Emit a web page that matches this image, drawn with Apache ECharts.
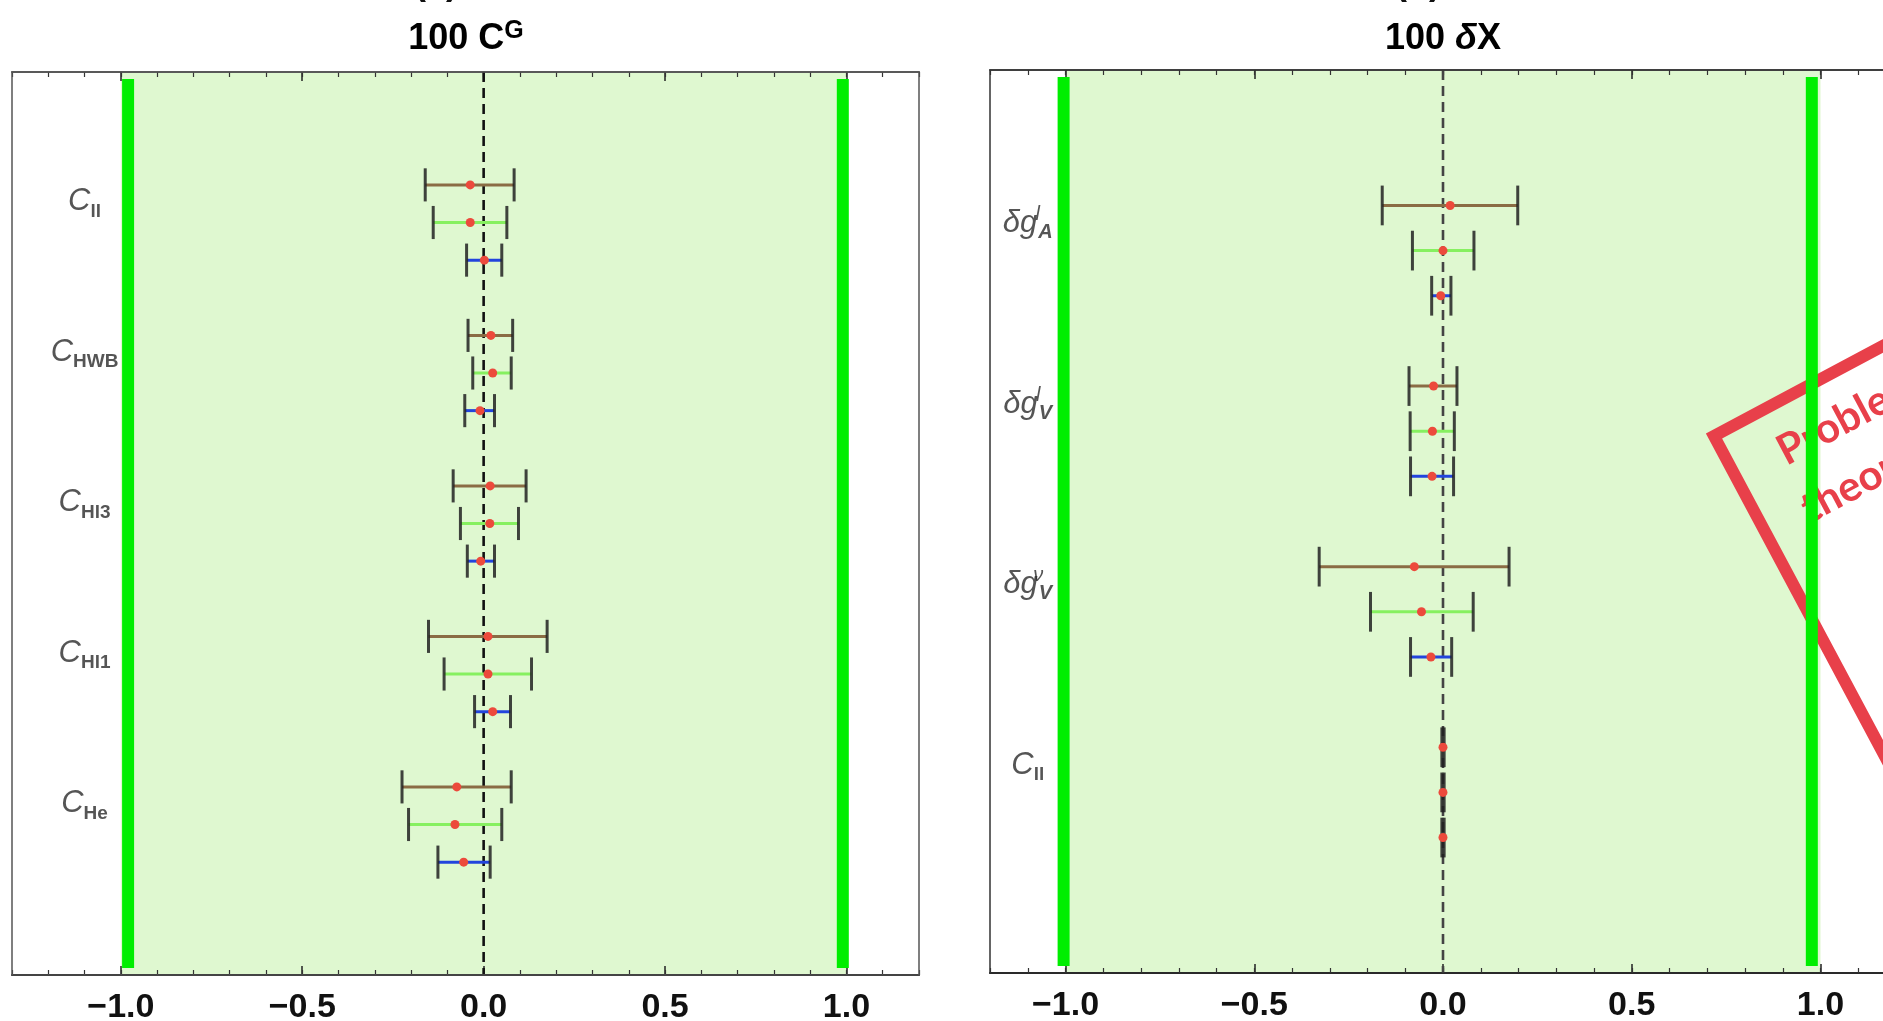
<!DOCTYPE html>
<html>
<head>
<meta charset="utf-8">
<title>100 C^G / 100 δX</title>
<script src="https://cdn.jsdelivr.net/npm/echarts@6/dist/echarts.min.js"></script>
<style>
html,body{margin:0;padding:0;background:#fff;}
#main{width:1883px;height:1021px;}
</style>
</head>
<body>
<div id="main"></div>
<script>
// ---- panel (a): 100 C^G ----
var catsA = ['C_ll', 'C_HWB', 'C_Hl3', 'C_Hl1', 'C_He'];
// three fits per operator: brown, light green, blue
var brownLoA = [-0.161, -0.043, -0.084, -0.152, -0.225];
var brownHiA = [0.084, 0.080, 0.117, 0.175, 0.076];
var brownMidA = [-0.037, 0.020, 0.018, 0.012, -0.074];
var greenLoA = [-0.139, -0.030, -0.064, -0.109, -0.207];
var greenHiA = [0.064, 0.076, 0.096, 0.132, 0.050];
var greenMidA = [-0.037, 0.025, 0.017, 0.012, -0.079];
var blueLoA = [-0.047, -0.052, -0.045, -0.025, -0.126];
var blueHiA = [0.050, 0.030, 0.030, 0.074, 0.018];
var blueMidA = [0.002, -0.010, -0.008, 0.025, -0.055];
var limitsA = [-0.98, 0.99];

// ---- panel (b): 100 δX ----
var catsB = ['δg_A^l', 'δg_V^l', 'δg_V^ν', 'C_ll'];
var brownLoB = [-0.161, -0.090, -0.328, -0.003];
var brownHiB = [0.198, 0.037, 0.175, 0.003];
var brownMidB = [0.019, -0.025, -0.076, 0.000];
var greenLoB = [-0.081, -0.087, -0.192, -0.003];
var greenHiB = [0.082, 0.030, 0.080, 0.003];
var greenMidB = [0.000, -0.028, -0.057, 0.000];
var blueLoB = [-0.030, -0.086, -0.086, -0.003];
var blueHiB = [0.021, 0.028, 0.023, 0.003];
var blueMidB = [-0.006, -0.029, -0.032, 0.000];
var limitsB = [-1.005, 0.977];

// axis ticks
var tickVals = [-1.0, -0.5, 0.0, 0.5, 1.0];
var bandRange = [-1, 1];

var myChart = echarts.init(document.getElementById('main'));

function minorTicks(min, max) {
    var arr = [];
    for (var i = Math.round(min * 10); i <= Math.round(max * 10); i++) {
        arr.push(i / 10);
    }
    return arr;
}

function fmtTick(v) {
    if (Math.abs(v) < 1e-9) return '0.0';
    return (v < 0 ? '\u2212' : '') + Math.abs(v).toFixed(1);
}

// "C_ll" / "δg_A^l" -> rich text
function richName(name) {
    var sup = '';
    var k = name.indexOf('^');
    if (k >= 0) { sup = name.slice(k + 1); name = name.slice(0, k); }
    var parts = name.split('_');
    var s = '{c|' + parts[0] + '}';
    if (sup) s += '{p|' + sup + '}';
    if (parts[1]) s += (sup ? '{si|' : '{s|') + parts[1] + '}';
    return s;
}

var labelRich = {
    c: { fontFamily: 'Liberation Sans', fontStyle: 'italic', fontSize: 31, color: '#2a2a2a', lineHeight: 38, verticalAlign: 'middle' },
    s: { fontFamily: 'Liberation Sans', fontWeight: 'bold', fontSize: 19, color: '#2a2a2a', lineHeight: 14, verticalAlign: 'bottom' },
    si: { fontFamily: 'Liberation Sans', fontStyle: 'italic', fontWeight: 'bold', fontSize: 20, color: '#2a2a2a', lineHeight: 16, verticalAlign: 'bottom' },
    p: { fontFamily: 'Liberation Sans', fontStyle: 'italic', fontSize: 20, color: '#2a2a2a', lineHeight: 18, verticalAlign: 'top', width: 1 }
};

// band from -1 to 1 over the whole plot height
function bandItem(params, api) {
    var cs = params.coordSys;
    var x1 = api.coord([api.value(0), 0])[0];
    var x2 = api.coord([api.value(1), 0])[0];
    return { type: 'rect', shape: { x: x1, y: cs.y, width: x2 - x1, height: cs.height }, style: { fill: '#dff8d0' } };
}

// thick green limit bars
function limitItem(params, api) {
    var cs = params.coordSys;
    var x = api.coord([api.value(0), 0])[0];
    return { type: 'line', shape: { x1: x, y1: cs.y + 7, x2: x, y2: cs.y + cs.height - 7 }, style: { stroke: '#00ee00', lineWidth: 12 } };
}

// dashed zero line
function zeroLine(color) {
    return function (params, api) {
        var cs = params.coordSys;
        var x = api.coord([api.value(0), 0])[0];
        return { type: 'line', shape: { x1: x, y1: cs.y, x2: x, y2: cs.y + cs.height }, style: { stroke: color, lineWidth: 2.6, lineDash: [10, 6] } };
    };
}

function errBar(color) {
    return function (params, api) {
        var y = api.value(2);
        var p1 = api.coord([api.value(0), y]);
        var p2 = api.coord([api.value(1), y]);
        var h = api.size([0, 1])[1] * 0.44;
        return {
            type: 'group', children: [
                { type: 'line', shape: { x1: p1[0], y1: p1[1], x2: p2[0], y2: p2[1] }, style: { stroke: color, lineWidth: 3 } },
                { type: 'line', shape: { x1: p1[0], y1: p1[1] - h, x2: p1[0], y2: p1[1] + h }, style: { stroke: '#222', lineWidth: 3, opacity: 0.85 } },
                { type: 'line', shape: { x1: p2[0], y1: p2[1] - h, x2: p2[0], y2: p2[1] + h }, style: { stroke: '#222', lineWidth: 3, opacity: 0.85 } }
            ]
        };
    };
}

function rows(lo, hi, off) {
    return lo.map(function (v, i) { return [v, hi[i], i * 4 + off]; });
}
function dots(mid, off) {
    return mid.map(function (v, i) { return [v, i * 4 + off]; });
}

function xAxesFor(grid, min, max) {
    var minor = minorTicks(min, max);
    var base = { type: 'value', gridIndex: grid, min: min, max: max, splitLine: { show: false } };
    return [
        Object.assign({}, base, {
            position: 'bottom',
            axisLine: { onZero: false, lineStyle: { color: '#111', width: 2 } },
            axisTick: { inside: true, length: 9, customValues: tickVals, lineStyle: { color: '#222', width: 1.5 } },
            axisLabel: { customValues: tickVals, formatter: fmtTick, margin: 16, fontFamily: 'Liberation Sans', fontWeight: 'bold', fontSize: 34, color: '#111' }
        }),
        Object.assign({}, base, {
            position: 'bottom',
            axisLine: { show: false, onZero: false },
            axisTick: { inside: true, length: 5, customValues: minor, lineStyle: { color: '#333', width: 1.2 } },
            axisLabel: { show: false }
        }),
        Object.assign({}, base, {
            position: 'top',
            axisLine: { onZero: false, lineStyle: { color: '#666', width: 2 } },
            axisTick: { inside: true, length: 9, customValues: tickVals, lineStyle: { color: '#222', width: 1.5 } },
            axisLabel: { show: false }
        }),
        Object.assign({}, base, {
            position: 'top',
            axisLine: { show: false, onZero: false },
            axisTick: { inside: true, length: 5, customValues: minor, lineStyle: { color: '#333', width: 1.2 } },
            axisLabel: { show: false }
        })
    ];
}

function panelSeries(g, cats, lim, zeroColor, labelOff, d) {
    var xi = g * 4;
    var common = { xAxisIndex: xi, yAxisIndex: g, silent: true, animation: false };
    return [
        Object.assign({ type: 'custom', z: -1, renderItem: bandItem, data: [bandRange] }, common),
        Object.assign({ type: 'custom', z: 2, renderItem: limitItem, data: lim.map(function (v) { return [v]; }) }, common),
        Object.assign({ type: 'custom', z: 3, renderItem: zeroLine(zeroColor), data: [[0]] }, common),
        Object.assign({ type: 'custom', z: 4, renderItem: errBar('#8a6c44'), data: rows(d[0], d[1], 0) }, common),
        Object.assign({ type: 'custom', z: 4, renderItem: errBar('#86f060'), data: rows(d[3], d[4], 1) }, common),
        Object.assign({ type: 'custom', z: 4, renderItem: errBar('#2244dd'), data: rows(d[6], d[7], 2) }, common),
        Object.assign({
            type: 'scatter', z: 5, symbolSize: 9, itemStyle: { color: '#ec4a3c', opacity: 1 },
            data: dots(d[2], 0).concat(dots(d[5], 1)).concat(dots(d[8], 2))
        }, common),
        Object.assign({
            type: 'scatter', z: 5, symbolSize: 0,
            data: cats.map(function (c, i) { return { value: [-1.1, i * 4 + labelOff], name: c }; }),
            label: {
                show: true, position: 'inside', align: 'center', verticalAlign: 'middle',
                formatter: function (p) { return richName(p.name); }, rich: labelRich
            }
        }, common)
    ];
}

var option = {
    backgroundColor: '#fff',
    animation: false,
    grid: [
        { left: 12, top: 72, width: 907, height: 903, show: true, borderColor: '#555', borderWidth: 1.5, z: 4, outerBoundsMode: 'none', containLabel: false },
        { left: 990, top: 70, width: 906, height: 903, show: true, borderColor: '#333', borderWidth: 1.5, z: 4, outerBoundsMode: 'none', containLabel: false }
    ],
    xAxis: xAxesFor(0, -1.3, 1.2).concat(xAxesFor(1, -1.2, 1.2)),
    yAxis: [
        { type: 'value', gridIndex: 0, min: -3, max: 21, inverse: true, show: false },
        { type: 'value', gridIndex: 1, min: -3, max: 17, inverse: true, show: false }
    ],
    series: panelSeries(0, catsA, limitsA, '#111', 0.45,
        [brownLoA, brownHiA, brownMidA, greenLoA, greenHiA, greenMidA, blueLoA, blueHiA, blueMidA])
        .concat(panelSeries(1, catsB, limitsB, '#444', 0.4,
        [brownLoB, brownHiB, brownMidB, greenLoB, greenHiB, greenMidB, blueLoB, blueHiB, blueMidB])),
    graphic: [
        { type: 'text', x: 436, y: 2, style: { text: '(a)', align: 'center', verticalAlign: 'bottom', font: 'bold 36px "Liberation Sans"', fill: '#111' } },
        { type: 'text', x: 1418, y: 2, style: { text: '(b)', align: 'center', verticalAlign: 'bottom', font: 'bold 36px "Liberation Sans"', fill: '#111' } },
        {
            type: 'text', x: 466, y: 39,
            style: {
                text: '{t|100 C}{u|G}', align: 'center', verticalAlign: 'middle',
                rich: {
                    t: { fontFamily: 'Liberation Sans', fontWeight: 'bold', fontSize: 36, color: '#111', lineHeight: 40, verticalAlign: 'middle' },
                    u: { fontFamily: 'Liberation Sans', fontWeight: 'bold', fontSize: 25, color: '#111', lineHeight: 22, verticalAlign: 'top' }
                }
            }
        },
        {
            type: 'text', x: 1443, y: 39,
            style: {
                text: '{t|100 }{i|δ}{t|X}', align: 'center', verticalAlign: 'middle',
                rich: {
                    t: { fontFamily: 'Liberation Sans', fontWeight: 'bold', fontSize: 36, color: '#111', lineHeight: 40 },
                    i: { fontFamily: 'Liberation Sans', fontWeight: 'bold', fontStyle: 'italic', fontSize: 36, color: '#111', lineHeight: 40 }
                }
            }
        },
        // red stamp overlay, cut off by the right edge
        {
            type: 'group', x: 1714, y: 436, rotation: 0.49, z: 100,
            children: [
                { type: 'rect', shape: { x: 0, y: 0, width: 620, height: 440 }, style: { fill: 'none', stroke: '#e8404a', lineWidth: 12 } },
                { type: 'text', x: 50, y: 68, style: { text: 'Problem with', font: 'bold 42px "Lato"', fill: '#e8404a', verticalAlign: 'bottom' } },
                { type: 'text', x: 44, y: 130, style: { text: 'theory', font: 'bold 42px "Lato"', fill: '#e8404a', verticalAlign: 'bottom' } }
            ]
        }
    ]
};

myChart.setOption(option);
</script>
</body>
</html>
